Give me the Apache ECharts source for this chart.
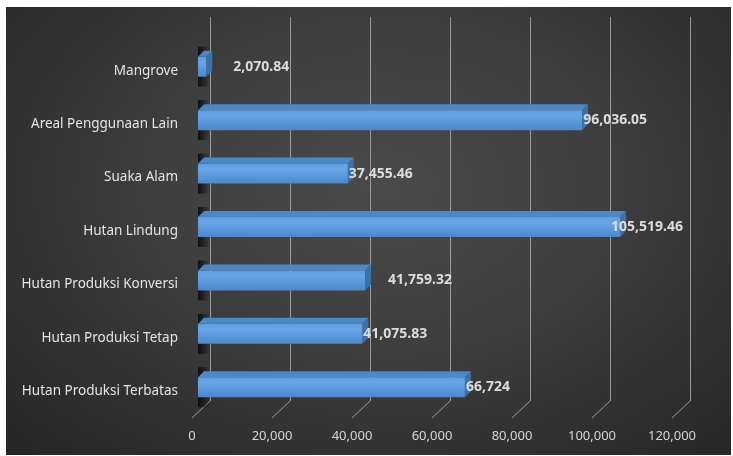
<!DOCTYPE html>
<html>
<head>
<meta charset="utf-8">
<script src="https://cdn.jsdelivr.net/npm/echarts@6/dist/echarts.min.js"></script>
<style>
  html, body { margin: 0; padding: 0; background: #ffffff; }
  #panel {
    position: absolute; left: 6px; top: 7px; width: 725px; height: 448px;
    background: radial-gradient(ellipse 75% 85% at 52% 40%, #4a4a4a 0%, #3f3f3f 40%, #2f2f2f 75%, #252525 100%);
  }
  #chart { position: absolute; left: 0; top: 0; width: 733px; height: 456px; }
</style>
</head>
<body>
<div id="panel"></div>
<div id="chart"></div>
<script>
// Land-use area by forest function (hectares)
const categories = [
  'Hutan Produksi Terbatas',
  'Hutan Produksi Tetap',
  'Hutan Produksi Konversi',
  'Hutan Lindung',
  'Suaka Alam',
  'Areal Penggunaan Lain',
  'Mangrove'
];
const areas = [66724, 41075.83, 41759.32, 105519.46, 37455.46, 96036.05, 2070.84];
const axisTicks = [0, 20000, 40000, 60000, 80000, 100000, 120000];

// hand-placed data label nudges (px), keyed by category
const labelNudge = { 'Mangrove': 26, 'Hutan Produksi Konversi': 22, 'Hutan Lindung': -10 };

const fmtArea = v => v.toLocaleString('en-US', {
  minimumFractionDigits: Number.isInteger(v) ? 0 : 2,
  maximumFractionDigits: 2
});

const FONT = '"Noto Sans", "Open Sans", sans-serif';
const DEPTH_X = 6, DEPTH_Y = 6, BAR_H = 20;

const chart = echarts.init(document.getElementById('chart'), null, { renderer: 'canvas' });

chart.setOption({
  backgroundColor: 'transparent',
  animation: false,
  grid: [
    { left: 198, right: 55, top: 40, bottom: 42 },   // front plane: bars and labels
    { left: 210, right: 43, top: 17, bottom: 55 }    // back wall: gridlines
  ],
  xAxis: [
    {
      type: 'value', gridIndex: 0, min: 0, max: 120000, interval: 20000,
      axisLine: { show: false }, axisTick: { show: false }, splitLine: { show: false },
      axisLabel: {
        color: '#d6d6d6', fontFamily: FONT, fontSize: 13, margin: 16,
        padding: [0, 12, 0, 0],
        formatter: v => v.toLocaleString('en-US')
      }
    },
    {
      type: 'value', gridIndex: 1, min: 0, max: 120000, interval: 20000,
      axisLine: { show: false }, axisTick: { show: false }, axisLabel: { show: false },
      splitLine: { show: true, lineStyle: { color: '#9a9a9a', width: 1 } }
    }
  ],
  yAxis: [
    {
      type: 'category', gridIndex: 0, data: categories,
      axisLine: { show: false }, axisTick: { show: false },
      axisLabel: {
        color: '#e4e4e4', fontFamily: FONT, fontSize: 13.5, margin: 20,
        verticalAlign: 'top', lineHeight: 8
      }
    },
    {
      type: 'value', gridIndex: 1, min: 0, max: 1, show: false
    }
  ],
  series: [
    {
      // floor edges running forward from each gridline
      type: 'custom', xAxisIndex: 1, yAxisIndex: 1, silent: true,
      data: axisTicks.map(t => [t, 0]),
      renderItem: (params, api) => {
        const p = api.coord([api.value(0), 0]);
        return {
          type: 'line',
          shape: { x1: p[0], y1: p[1], x2: p[0] - 18, y2: p[1] + 17 },
          style: { stroke: '#9a9a9a', lineWidth: 1 }
        };
      }
    },
    {
      type: 'custom', xAxisIndex: 0, yAxisIndex: 0, silent: true,
      data: areas.map((v, i) => [v, i]),
      renderItem: (params, api) => {
        const v = api.value(0);
        const ci = api.value(1);
        const p0 = api.coord([0, ci]);
        const p1 = api.coord([v, ci]);
        const x0 = p0[0], x1 = p1[0], yc = p0[1];
        const yT = yc - BAR_H / 2, yB = yc + BAR_H / 2;
        const nudge = labelNudge[categories[ci]] || 0;
        return {
          type: 'group',
          children: [
            { // shadow cast onto the side wall
              type: 'rect',
              shape: { x: x0, y: yT - 10, width: 12, height: BAR_H + 20 },
              style: {
                fill: new echarts.graphic.LinearGradient(0, 0, 1, 0, [
                  { offset: 0, color: 'rgba(0,0,0,0.75)' },
                  { offset: 1, color: 'rgba(0,0,0,0)' }
                ])
              }
            },
            { // top face
              type: 'polygon',
              shape: { points: [[x0, yT], [x0 + DEPTH_X, yT - DEPTH_Y], [x1 + DEPTH_X, yT - DEPTH_Y], [x1, yT]] },
              style: { fill: '#4f86c4' }
            },
            { // end face
              type: 'polygon',
              shape: { points: [[x1, yT], [x1 + DEPTH_X, yT - DEPTH_Y], [x1 + DEPTH_X, yB - DEPTH_Y], [x1, yB]] },
              style: { fill: '#3d70aa' }
            },
            { // front face
              type: 'rect',
              shape: { x: x0, y: yT, width: x1 - x0, height: BAR_H },
              style: {
                fill: new echarts.graphic.LinearGradient(0, 0, 0, 1, [
                  { offset: 0, color: '#5f9de0' },
                  { offset: 0.25, color: '#6aa6e6' },
                  { offset: 1, color: '#4a87cf' }
                ])
              }
            },
            {
              type: 'text',
              style: {
                x: x1 + 1 + nudge, y: yc,
                text: fmtArea(v),
                fill: '#dcdcdc',
                font: 'bold 14px ' + FONT,
                align: 'left', verticalAlign: 'middle'
              }
            }
          ]
        };
      }
    }
  ]
});
</script>
</body>
</html>
